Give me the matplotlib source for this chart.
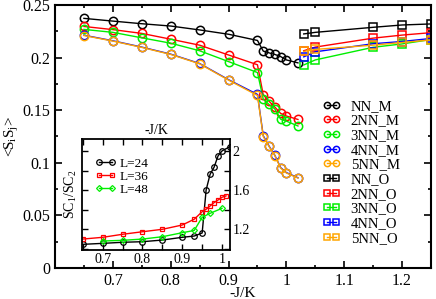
import matplotlib
matplotlib.use("Agg")
import matplotlib.pyplot as plt
from matplotlib.ticker import MultipleLocator, FuncFormatter

plt.rcParams['font.family'] = ['Liberation Serif', 'DejaVu Serif']
plt.rcParams['mathtext.default'] = 'regular'

# main panel: circles (M) below the transition, squares (O) above it
x_m = [0.65, 0.7, 0.75, 0.8, 0.85, 0.9, 0.95, 0.96, 0.97, 0.98, 0.99, 1.0, 1.02]
nn_m = [0.2373, 0.2347, 0.2322, 0.2300, 0.2263, 0.2222, 0.2163, 0.2062, 0.2045, 0.2030, 0.2010, 0.1978, 0.1950]
nn2_m = [0.2296, 0.2266, 0.2230, 0.2175, 0.2118, 0.2025, 0.1932, 0.1645, 0.1585, 0.1530, 0.1470, 0.1445, 0.1412]
nn3_m = [0.2268, 0.2240, 0.2188, 0.2137, 0.2065, 0.1962, 0.1858, 0.1605, 0.1555, 0.1512, 0.1415, 0.1396, 0.1350]
nn4_m = [0.2213, 0.2160, 0.2100, 0.2033, 0.1944, 0.1790, 0.1650, 0.1258, 0.1160, 0.1072, 0.0955, 0.0907, 0.0858]
nn5_m = [0.2210, 0.2157, 0.2097, 0.2030, 0.1941, 0.1786, 0.1640, 0.1250, 0.1155, 0.1068, 0.0950, 0.0903, 0.0855]

x_o = [1.03, 1.05, 1.15, 1.2, 1.25]
nn_o = [0.2225, 0.2240, 0.2288, 0.2310, 0.2320]
nn2_o = [0.2065, 0.2100, 0.2185, 0.2214, 0.2237]
nn3_o = [0.1930, 0.1978, 0.2098, 0.2130, 0.2172]
nn4_o = [0.2007, 0.2055, 0.2132, 0.2153, 0.2182]
nn5_o = [0.2058, 0.2078, 0.2118, 0.2144, 0.2168]

# inset: SC1/SC2 for three sizes
x_24 = [0.65, 0.7, 0.75, 0.8, 0.85, 0.9, 0.93, 0.95, 0.96, 0.97, 0.98, 0.99, 1.0, 1.02]
sc_24 = [1.046, 1.056, 1.067, 1.073, 1.090, 1.118, 1.131, 1.162, 1.603, 1.764, 1.836, 1.952, 2.003, 2.047]
x_36 = [0.65, 0.7, 0.75, 0.8, 0.85, 0.9, 0.93, 0.95, 0.96, 0.97, 0.98, 0.99, 1.0, 1.01]
sc_36 = [1.100, 1.118, 1.149, 1.175, 1.200, 1.244, 1.303, 1.380, 1.405, 1.439, 1.473, 1.500, 1.528, 1.542]
x_48 = [0.7, 0.75, 0.8, 0.85, 0.9, 0.93, 0.95, 0.97, 1.0]
sc_48 = [1.080, 1.087, 1.100, 1.124, 1.165, 1.188, 1.323, 1.364, 1.415]

colors = ['black', 'red', '#00ee00', 'blue', 'orange']
names = ['NN', '2NN', '3NN', '4NN', '5NN']


def fmt(lo):
    # drop the label at the left edge, as the original does
    return FuncFormatter(lambda v, p: '' if v < lo else '%g' % round(v, 3))


fig = plt.figure(figsize=(4.36, 2.99), dpi=100)
ax = fig.add_axes([55/436, 1 - 268/299, 376/436, 263/299])

m_series = [nn_m, nn2_m, nn3_m, nn4_m, nn5_m]
o_series = [nn_o, nn2_o, nn3_o, nn4_o, nn5_o]
for c, n, ys in zip(colors, names, m_series):
    ax.plot(x_m, ys, color=c, lw=1.0, marker='o', ms=6, mfc='none', mec=c, mew=1.1, label=n + '_M')
for c, n, ys in zip(colors, names, o_series):
    ax.plot(x_o, ys, color=c, lw=1.0, marker='s', ms=5.5, mfc='none', mec=c, mew=1.1, label=n + '_O')

ax.set_xlim(0.6, 1.25)
ax.set_ylim(0, 0.25)
ax.xaxis.set_major_locator(MultipleLocator(0.1))
ax.xaxis.set_minor_locator(MultipleLocator(0.05))
ax.yaxis.set_major_locator(MultipleLocator(0.05))
ax.yaxis.set_minor_locator(MultipleLocator(0.025))
ax.xaxis.set_major_formatter(fmt(0.65))
ax.yaxis.set_major_formatter(fmt(-1))
ax.tick_params(which='both', direction='in', top=True, right=True, labelsize=11.5, width=1.2)
ax.tick_params(which='major', length=5)
ax.tick_params(which='minor', length=2.5)
for s in ax.spines.values():
    s.set_linewidth(1.5)
ax.set_xlabel('-J/K', fontsize=11, labelpad=-1.5)
ax.set_ylabel('<S$_i$S$_j$>', fontsize=11, labelpad=1)

ax.legend(loc='upper left', bbox_to_anchor=(323/436, 1 - 99.5/299), bbox_transform=fig.transFigure,
          frameon=False, numpoints=2, fontsize=10.5, handlelength=1.2, handletextpad=0.7,
          labelspacing=0.1, borderpad=0, borderaxespad=0, markerscale=0.75)

# inset
ins = fig.add_axes([82/436, 1 - 250/299, 148/436, 111.5/299])
ins.plot(x_24, sc_24, color='black', lw=1.0, marker='o', ms=4, mfc='none', mew=0.9, label='L=24')
ins.plot(x_36, sc_36, color='red', lw=1.0, marker='s', ms=3.5, mfc='none', mew=0.9, label='L=36')
ins.plot(x_48, sc_48, color='#00ee00', lw=1.0, marker='D', ms=3, mfc='none', mew=0.9, label='L=48')
ins.set_xlim(0.648, 1.02)
ins.set_ylim(0.988, 2.13)
ins.xaxis.set_major_locator(MultipleLocator(0.1))
ins.xaxis.set_minor_locator(MultipleLocator(0.05))
ins.yaxis.set_major_locator(MultipleLocator(0.4))
ins.yaxis.set_minor_locator(MultipleLocator(0.2))
ins.xaxis.set_major_formatter(fmt(0.65))
ins.yaxis.set_major_formatter(fmt(-1))
ins.tick_params(which='both', direction='in', top=True, right=True, left=True,
                labelleft=False, labelright=True, labelsize=10, width=1.0, pad=2)
ins.tick_params(which='major', length=4)
ins.tick_params(which='minor', length=4)
for s in ins.spines.values():
    s.set_linewidth(1.3)
ins.xaxis.set_label_position('top')
ins.set_xlabel('-J/K', fontsize=10, labelpad=3)
ins.set_ylabel('SC$_1$/SC$_2$', fontsize=10, labelpad=2)
ins.legend(loc='upper left', bbox_to_anchor=(95/436, 1 - 157.5/299), bbox_transform=fig.transFigure,
           frameon=False, numpoints=2, fontsize=9.5, handlelength=1.6, handletextpad=0.3,
           labelspacing=0.05, borderpad=0, borderaxespad=0)

fig.savefig('out.png', dpi=100)
